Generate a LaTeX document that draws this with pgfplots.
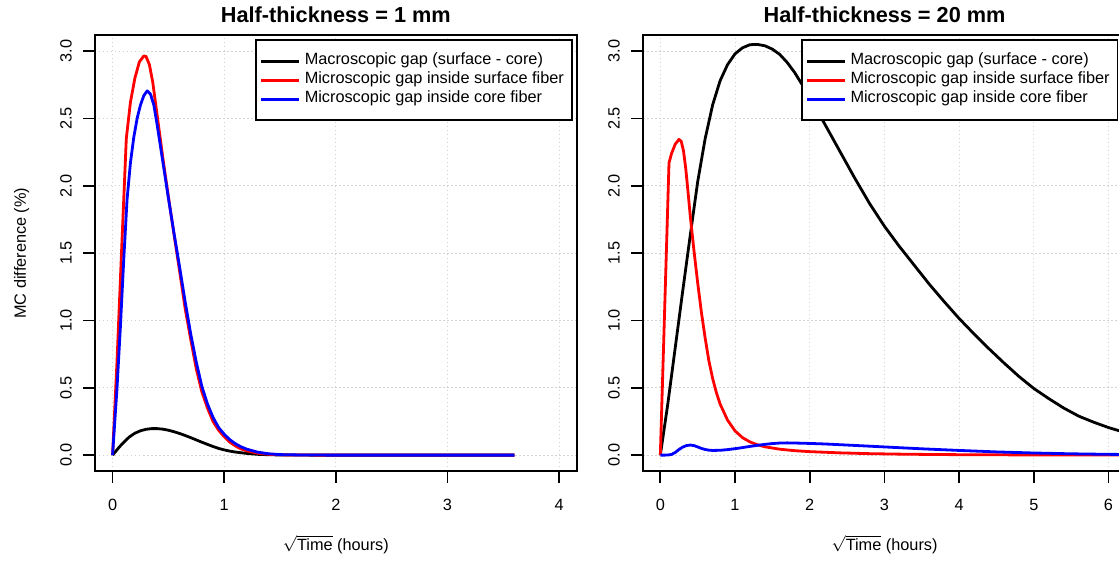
\documentclass[border=0pt]{standalone}
\usepackage{fontspec}
\setmainfont{Liberation Sans}
\usepackage{pgfplots}
\usepackage{pgfplotstable}
\pgfplotsset{compat=1.18}
\definecolor{rgrid}{HTML}{D3D3D3}

\pgfplotstableread{
x y
0 0
0.03 0.03
0.06 0.06
0.1 0.095
0.15 0.135
0.2 0.163
0.25 0.181
0.3 0.192
0.35 0.197
0.4 0.197
0.45 0.193
0.5 0.185
0.55 0.174
0.6 0.161
0.65 0.146
0.7 0.13
0.75 0.113
0.8 0.096
0.85 0.08
0.9 0.064
0.95 0.05
1.0 0.039
1.05 0.03
1.1 0.023
1.15 0.018
1.2 0.013
1.3 0.006
1.4 0.003
1.5 0.0015
1.6 0.0008
1.8 0.0002
2.0 0
2.5 0
3.0 0
3.6 0
}\leftblack

\pgfplotstableread{
x y
0 0
0.04 0.7
0.08 1.5
0.123 2.35
0.16 2.62
0.2 2.8
0.24 2.92
0.28 2.965
0.3 2.96
0.33 2.9
0.36 2.77
0.4 2.52
0.45 2.21
0.5 1.92
0.55 1.64
0.6 1.37
0.65 1.09
0.7 0.86
0.75 0.64
0.8 0.47
0.85 0.35
0.9 0.25
0.95 0.185
1.0 0.137
1.05 0.097
1.1 0.068
1.15 0.047
1.2 0.032
1.3 0.014
1.4 0.006
1.5 0.0025
1.7 0.0005
2.0 0
2.5 0
3.0 0
3.6 0
}\leftred

\pgfplotstableread{
x y
0 0
0.04 0.5
0.07 0.95
0.1 1.45
0.13 1.9
0.16 2.17
0.19 2.36
0.22 2.5
0.25 2.6
0.28 2.67
0.31 2.705
0.34 2.68
0.37 2.6
0.4 2.45
0.45 2.18
0.5 1.91
0.55 1.65
0.6 1.4
0.65 1.14
0.7 0.9
0.75 0.69
0.8 0.51
0.85 0.38
0.9 0.28
0.95 0.205
1.0 0.155
1.05 0.115
1.1 0.085
1.15 0.062
1.2 0.045
1.3 0.022
1.4 0.01
1.5 0.004
1.7 0.001
2.0 0
2.5 0
3.0 0
3.6 0
}\leftblue

\pgfplotstableread{
x y
0 0
0.1 0.38
0.2 0.8
0.3 1.22
0.4 1.63
0.5 2.03
0.6 2.35
0.7 2.6
0.8 2.78
0.9 2.9
1.0 2.98
1.1 3.025
1.2 3.048
1.3 3.05
1.4 3.04
1.5 3.015
1.6 2.975
1.7 2.915
1.8 2.84
1.9 2.75
2.0 2.655
2.2 2.46
2.4 2.26
2.6 2.06
2.8 1.87
3.0 1.7
3.2 1.55
3.4 1.41
3.6 1.27
3.8 1.14
4.0 1.015
4.2 0.9
4.4 0.79
4.6 0.685
4.8 0.585
5.0 0.495
5.2 0.42
5.4 0.35
5.6 0.29
5.8 0.245
6.0 0.205
6.24 0.165
}\rightblack

\pgfplotstableread{
x y
0 0
0.03 0.56
0.06 1.12
0.09 1.68
0.116 2.17
0.15 2.24
0.2 2.31
0.25 2.345
0.28 2.33
0.31 2.26
0.34 2.13
0.37 1.96
0.4 1.78
0.45 1.52
0.5 1.28
0.55 1.06
0.6 0.87
0.65 0.7
0.7 0.57
0.75 0.465
0.8 0.38
0.9 0.26
1.0 0.18
1.1 0.13
1.2 0.098
1.3 0.077
1.4 0.062
1.6 0.044
1.8 0.033
2.0 0.026
2.4 0.017
2.8 0.011
3.2 0.0075
3.6 0.005
4.0 0.0035
5.0 0.0015
6.24 0.0005
}\rightred

\pgfplotstableread{
x y
0 0
0.05 0
0.1 0.001
0.15 0.005
0.2 0.02
0.25 0.042
0.3 0.06
0.35 0.071
0.4 0.075
0.45 0.071
0.5 0.061
0.55 0.05
0.6 0.042
0.65 0.037
0.7 0.035
0.8 0.036
0.9 0.041
1.0 0.048
1.1 0.056
1.2 0.065
1.3 0.073
1.4 0.08
1.5 0.086
1.6 0.09
1.7 0.091
1.8 0.09
2.0 0.087
2.2 0.083
2.5 0.075
3.0 0.061
3.5 0.047
4.0 0.035
4.5 0.024
5.0 0.016
5.5 0.01
6.0 0.006
6.24 0.005
}\rightblue

\pgfplotsset{
  rstyle/.style={
    scale only axis,
    height=218.15pt,
    ymin=-0.12, ymax=3.12,
    ytick={0,0.5,1,1.5,2,2.5,3},
    axis line style={line width=0.85pt},
    every tick/.style={black, line width=0.85pt},
    tick align=outside,
    major tick length=5.7pt,
    tick pos=left,
    grid=major,
    major grid style={draw=rgrid, line width=0.5pt, dash pattern=on 0.9pt off 1.1pt},
    tick label style={font=\fontsize{8.15}{9.8}\selectfont},
    /pgf/number format/assume math mode=true,
    yticklabel style={/pgf/number format/fixed, /pgf/number format/fixed zerofill, /pgf/number format/precision=1, xshift=-8.65pt, rotate=90, anchor=center},
    xticklabel style={anchor=center, yshift=-11.3pt},
    every axis title/.style={at={(axis description cs:0.5,1)}, anchor=base, yshift=6.4pt, font=\fontsize{10.85}{13}\selectfont\bfseries},
    every axis x label/.style={at={(axis description cs:0.5,0)}, anchor=base, yshift=-39.5pt, font=\fontsize{8.15}{9.8}\selectfont},
    every axis y label/.style={at={(axis description cs:0,0.5)}, xshift=-34.4pt, rotate=90, anchor=base, font=\fontsize{8.15}{9.8}\selectfont},
    legend cell align=left,
    legend style={anchor=north east, draw=black, line width=0.85pt, fill=white,
      inner xsep=2pt, inner ysep=6.4pt, row sep=1.35pt,
      font=\fontsize{8.15}{9.8}\selectfont,
      nodes={inner xsep=2pt, inner ysep=0pt, text height=5.9pt, text depth=2.25pt}},
    legend image code/.code={\draw[#1] (0pt,0pt) -- (16pt,0pt); \path (0pt,0pt) -- (19pt,0pt);},
  },
  cblack/.style={black, line width=1.4pt, line join=round},
  cred/.style={red, line width=1.4pt, line join=round},
  cblue/.style={blue, line width=1.4pt, line join=round},
}

\begin{document}
\begin{tikzpicture}
\path[use as bounding box] (0,0) rectangle (559.5pt,281.5pt);
\clip (0,0) rectangle (559.5pt,281.5pt);

\begin{axis}[rstyle,
  at={(47.35pt,45.85pt)}, anchor=south west,
  width=241.15pt,
  xmin=-0.16, xmax=4.16,
  xtick={0,1,2,3,4},
  title={Half-thickness = 1 mm},
  xlabel={$\sqrt{\mbox{Time}}$ (hours)},
  ylabel={MC difference (\%)},
  legend style={at={(0.9911,0.9901)}},
]
\addplot[cblack] table {\leftblack};
\addlegendentry{Macroscopic gap (surface - core)}
\addplot[cred] table {\leftred};
\addlegendentry{Microscopic gap inside surface fiber}
\addplot[cblue] table {\leftblue};
\addlegendentry{Microscopic gap inside core fiber}
\end{axis}

\begin{axis}[rstyle,
  at={(321.35pt,45.85pt)}, anchor=south west,
  width=241.85pt,
  xmin=-0.236, xmax=6.24,
  xtick={0,1,2,3,4,5,6},
  title={Half-thickness = 20 mm},
  xlabel={$\sqrt{\mbox{Time}}$ (hours)},
  legend style={at={(0.9836,0.9901)}},
]
\addplot[cblack] table {\rightblack};
\addlegendentry{Macroscopic gap (surface - core)}
\addplot[cred] table {\rightred};
\addlegendentry{Microscopic gap inside surface fiber}
\addplot[cblue] table {\rightblue};
\addlegendentry{Microscopic gap inside core fiber}
\end{axis}
\end{tikzpicture}
\end{document}
